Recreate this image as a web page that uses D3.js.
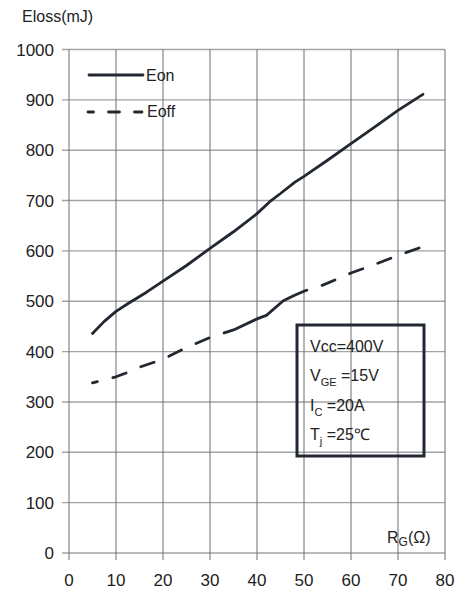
<!DOCTYPE html>
<html>
<head>
<meta charset="utf-8">
<script src="https://cdn.jsdelivr.net/npm/d3@7"></script>
<style>
  body { margin: 0; background: #fff; }
  svg text { font-family: "Liberation Sans", Arial, sans-serif; fill: #222; }
</style>
</head>
<body>
<div id="chart"></div>
<script>
// values
const xTicks = [0, 10, 20, 30, 40, 50, 60, 70, 80];
const yTicks = [0, 100, 200, 300, 400, 500, 600, 700, 800, 900, 1000];

const eonRg   = [5, 7.5, 10, 12.5, 16.5, 20, 25, 30, 35, 40, 43, 45, 48, 50, 55, 60, 65, 70, 75.3];
const eonVal  = [436, 460, 480, 495, 518, 540, 571, 605, 638, 674, 700, 714, 736, 748, 780, 813, 846, 879, 911];

const eoffRg  = [5, 10, 12, 15, 20, 25, 30, 35, 40, 42, 45.6, 48, 50, 54, 57, 60, 65, 70, 75.5];
const eoffVal = [338, 350, 357, 369, 385, 408, 428, 443, 465, 472, 501, 512, 520, 532, 544, 556, 573, 591, 609];

// the Eoff dashes merge into one solid run over this R_G range
const eoffSolid = [33.2, 50.6];

const width = 460, height = 591;
const svg = d3.select("#chart").append("svg")
    .attr("width", width)
    .attr("height", height);

const x = d3.scaleLinear().domain([0, 80]).range([69, 445]);
const y = d3.scaleLinear().domain([0, 1000]).range([553, 49.5]);

const ink = "#222831";

// grid
svg.append("g").selectAll("line")
    .data(yTicks)
    .join("line")
    .attr("x1", x(0) - 7).attr("x2", x(80))
    .attr("y1", d => y(d)).attr("y2", d => y(d))
    .attr("stroke", "#a3a3a3")
    .attr("stroke-width", 1.4);

svg.append("g").selectAll("line")
    .data(xTicks)
    .join("line")
    .attr("x1", d => x(d)).attr("x2", d => x(d))
    .attr("y1", y(1000)).attr("y2", y(0) + 7)
    .attr("stroke", "#6f6f6f")
    .attr("stroke-width", 1);

// tick labels
svg.append("g").selectAll("text")
    .data(yTicks)
    .join("text")
    .attr("x", 54)
    .attr("y", d => y(d) + 6)
    .attr("text-anchor", "end")
    .style("font-size", "17px")
    .text(d => d);

svg.append("g").selectAll("text")
    .data(xTicks)
    .join("text")
    .attr("x", d => x(d))
    .attr("y", 586)
    .attr("text-anchor", "middle")
    .style("font-size", "17px")
    .text(d => d);

// axis titles
svg.append("text")
    .attr("x", 22).attr("y", 22)
    .style("font-size", "16px")
    .text("Eloss(mJ)");

const rg = svg.append("text")
    .attr("x", 387).attr("y", 543)
    .style("font-size", "16px");
rg.append("tspan").text("R");
rg.append("tspan").attr("dy", 3).style("font-size", "12px").text("G");
rg.append("tspan").attr("dy", -3).text("(Ω)");

// curves
const line = d3.line()
    .x(d => x(d[0]))
    .y(d => y(d[1]));

svg.append("path")
    .datum(d3.zip(eonRg, eonVal))
    .attr("d", line)
    .attr("fill", "none")
    .attr("stroke", ink)
    .attr("stroke-width", 2.8)
    .attr("stroke-linecap", "round")
    .attr("stroke-linejoin", "round");

const eoffPath = svg.append("path")
    .datum(d3.zip(eoffRg, eoffVal))
    .attr("d", line)
    .attr("fill", "none")
    .attr("stroke", ink)
    .attr("stroke-width", 2.8)
    .attr("stroke-linecap", "round")
    .attr("stroke-linejoin", "round");

// dash pattern with a solid run in the middle
function dashWithSolid(node, px0, px1) {
    const total = node.getTotalLength();
    const lenAt = px => {
        let lo = 0, hi = total;
        for (let i = 0; i < 30; i++) {
            const mid = (lo + hi) / 2;
            if (node.getPointAtLength(mid).x < px) lo = mid; else hi = mid;
        }
        return lo;
    };
    const a = lenAt(px0), b = lenAt(px1);
    const dash = 14, gap = 16;
    const arr = [];
    let pos = 0, d = 5;
    while (pos + d + gap < a) { arr.push(d, gap); pos += d + gap; d = dash; }
    const r = a - pos;
    if (r > d) arr.push(d, r - d); else arr.push(0, r);
    arr.push(b - a, gap);
    pos = b + gap;
    while (pos < total) { arr.push(dash, gap); pos += dash + gap; }
    return arr.join(",");
}
eoffPath.attr("stroke-dasharray", dashWithSolid(eoffPath.node(), x(eoffSolid[0]), x(eoffSolid[1])));

// legend
const legend = svg.append("g");
legend.append("line")
    .attr("x1", 89).attr("x2", 143).attr("y1", 75).attr("y2", 75)
    .attr("stroke", ink).attr("stroke-width", 2.8).attr("stroke-linecap", "round");
legend.append("text")
    .attr("x", 146).attr("y", 81)
    .style("font-size", "16px")
    .text("Eon");
legend.append("line")
    .attr("x1", 88).attr("x2", 142).attr("y1", 112).attr("y2", 112)
    .attr("stroke", ink).attr("stroke-width", 2.8)
    .attr("stroke-dasharray", "11,15").attr("stroke-dashoffset", 5.5)
    .attr("stroke-linecap", "round");
legend.append("text")
    .attr("x", 147).attr("y", 117)
    .style("font-size", "16px")
    .text("Eoff");

// conditions box
svg.append("rect")
    .attr("x", 297).attr("y", 325)
    .attr("width", 127).attr("height", 131)
    .attr("fill", "none")
    .attr("stroke", ink)
    .attr("stroke-width", 3);

const cond = [
    { main: "Vcc=400V", sub: "", rest: "", y: 352 },
    { main: "V", sub: "GE", rest: " =15V", y: 381 },
    { main: "I", sub: "C", rest: " =20A", y: 411 },
    { main: "T", sub: "j", rest: " =25℃", y: 440 }
];
cond.forEach(c => {
    const t = svg.append("text")
        .attr("x", 310).attr("y", c.y)
        .style("font-size", "16px");
    t.append("tspan").text(c.main);
    if (c.sub) {
        t.append("tspan").attr("dy", 5).style("font-size", "11px").text(c.sub);
        t.append("tspan").attr("dy", -5).text(c.rest);
    }
});
</script>
</body>
</html>
